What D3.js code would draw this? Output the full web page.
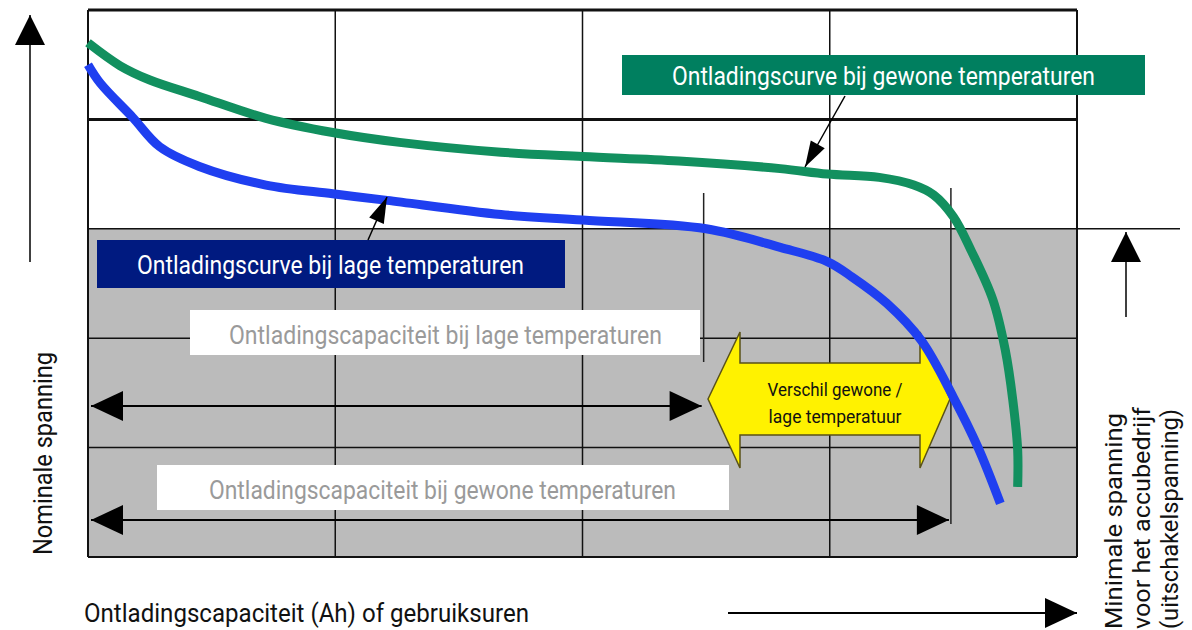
<!DOCTYPE html>
<html>
<head>
<meta charset="utf-8">
<script src="https://cdn.jsdelivr.net/npm/d3@7"></script>
<style>
  body { margin: 0; background: #fff; }
  svg text { font-family: Roboto, "DejaVu Sans Condensed", sans-serif; }
</style>
</head>
<body>
<div id="chart"></div>
<script>
// discharge curves, x in grid columns (capacity), y in grid rows (voltage)
const normalCapacity = [0, 0.13, 0.25, 0.45, 0.72, 0.99, 1.26, 1.67, 2.0, 2.39, 2.8, 2.99, 3.2, 3.34, 3.42, 3.5, 3.57, 3.66, 3.71, 3.74, 3.76, 3.76];
const normalVoltage = [4.7, 4.49, 4.36, 4.21, 4.01, 3.88, 3.79, 3.7, 3.66, 3.62, 3.55, 3.5, 3.47, 3.4, 3.31, 3.11, 2.81, 2.35, 1.89, 1.44, 0.98, 0.64];
const lowCapacity = [0, 0.05, 0.18, 0.29, 0.45, 0.72, 0.99, 1.21, 1.67, 2.0, 2.5, 2.8, 2.99, 3.09, 3.23, 3.37, 3.5, 3.6, 3.69];
const lowVoltage = [4.5, 4.33, 4.02, 3.75, 3.57, 3.4, 3.32, 3.26, 3.13, 3.08, 3.0, 2.83, 2.7, 2.56, 2.32, 1.98, 1.46, 1.0, 0.49];

const cutoffVoltage = 3;          // gray zone below this
const lowCapacityEnd = 2.49;      // capacity at cutoff, low temp
const normalCapacityEnd = 3.49;   // capacity at cutoff, normal temp

const xGrid = [0, 1, 2, 3, 4];
const yGrid = [0, 1, 2, 3, 4, 5];

const labelNormal = "Ontladingscurve bij gewone temperaturen";
const labelLow = "Ontladingscurve bij lage temperaturen";
const capLow = "Ontladingscapaciteit bij lage temperaturen";
const capNormal = "Ontladingscapaciteit bij gewone temperaturen";
const diffLines = ["Verschil gewone /", "lage temperatuur"];
const xTitle = "Ontladingscapaciteit (Ah) of gebruiksuren";
const yTitle = "Nominale spanning";
const cutoffLines = ["Minimale spanning", "voor het accubedrijf", "(uitschakelspanning)"];

const W = 1192, H = 630;
const x = d3.scaleLinear().domain([0, 4]).range([88, 1077]);
const y = d3.scaleLinear().domain([0, 5]).range([557, 10]);

const svg = d3.select("#chart").append("svg")
  .attr("width", W).attr("height", H);

// filled triangle pointing from base to tip
function head(g, tx, ty, angle, len, half) {
  const bx = tx - len * Math.cos(angle), by = ty - len * Math.sin(angle);
  const px = -Math.sin(angle) * half, py = Math.cos(angle) * half;
  g.append("path")
    .attr("d", `M${tx},${ty}L${bx + px},${by + py}L${bx - px},${by - py}Z`)
    .attr("fill", "#000");
}
function arrowLine(g, x1, y1, x2, y2, len, half, width, both) {
  const a = Math.atan2(y2 - y1, x2 - x1);
  g.append("line").attr("x1", x1).attr("y1", y1).attr("x2", x2).attr("y2", y2)
    .attr("stroke", "#000").attr("stroke-width", width);
  head(g, x2, y2, a, len, half);
  if (both) head(g, x1, y1, a + Math.PI, len, half);
}
// squeezed text, the original font is a condensed one
function label(g, tx, ty, txt, size, len, color) {
  return g.append("text").attr("x", tx).attr("y", ty).attr("fill", color)
    .attr("font-size", size).attr("textLength", len).attr("lengthAdjust", "spacingAndGlyphs").text(txt);
}

// gray zone under cutoff voltage
svg.append("rect")
  .attr("x", x(0)).attr("y", y(cutoffVoltage))
  .attr("width", x(4) - x(0)).attr("height", y(0) - y(cutoffVoltage))
  .attr("fill", "#bbbbbb");

// grid
const grid = svg.append("g").attr("stroke", "#111");
grid.selectAll("line.v").data(xGrid).join("line")
  .attr("x1", d => x(d)).attr("x2", d => x(d))
  .attr("y1", y(5)).attr("y2", y(0))
  .attr("stroke-width", d => (d === 0 || d === 4) ? 2 : 1.5);
grid.selectAll("line.h").data(yGrid).join("line")
  .attr("x1", x(0)).attr("x2", d => d === cutoffVoltage ? 1180 : x(4))
  .attr("y1", d => y(d)).attr("y2", d => y(d))
  .attr("stroke-width", d => (d === 4 || d === 5) ? 3 : (d === 0 ? 2 : 1.5));

// capacity marker lines
svg.append("line").attr("x1", x(lowCapacityEnd)).attr("x2", x(lowCapacityEnd))
  .attr("y1", 193).attr("y2", 362).attr("stroke", "#222").attr("stroke-width", 1.5);
svg.append("line").attr("x1", x(normalCapacityEnd)).attr("x2", x(normalCapacityEnd))
  .attr("y1", 188).attr("y2", 524).attr("stroke", "#222").attr("stroke-width", 1.5);

// white capacity labels
svg.append("rect").attr("x", 190).attr("y", 310).attr("width", 510).attr("height", 45).attr("fill", "#fff");
label(svg, 229, 344, capLow, 25, 433, "#9a9a9a");
svg.append("rect").attr("x", 157).attr("y", 465).attr("width", 572).attr("height", 45).attr("fill", "#fff");
label(svg, 209, 499, capNormal, 25, 467, "#9a9a9a");

// capacity arrows
const arr = svg.append("g");
arrowLine(arr, 91, 406, x(lowCapacityEnd) - 2, 406, 32, 15, 2, true);
arrowLine(arr, 91, 520, x(normalCapacityEnd) - 2, 520, 32, 15, 2, true);

// yellow double arrow
const yb = { l: 708, r: 950, cy: 399, hb: 740, hb2: 920, top: 363, bot: 435, ht: 332, hbm: 468 };
svg.append("path")
  .attr("d", `M${yb.l},${yb.cy}L${yb.hb},${yb.ht}L${yb.hb},${yb.top}L${yb.hb2},${yb.top}L${yb.hb2},${yb.ht}` +
    `L${yb.r},${yb.cy}L${yb.hb2},${yb.hbm}L${yb.hb2},${yb.bot}L${yb.hb},${yb.bot}L${yb.hb},${yb.hbm}Z`)
  .attr("fill", "#fff200").attr("stroke", "#5a5218").attr("stroke-width", 1.5);
diffLines.forEach((d, i) => {
  label(svg, 835, 396 + i * 27, d, 19, i === 0 ? 135 : 133, "#111").attr("text-anchor", "middle");
});

// curves
const line = d3.line().x(d => x(d[0])).y(d => y(d[1])).curve(d3.curveCatmullRom.alpha(0.5));
svg.append("path").datum(d3.zip(lowCapacity, lowVoltage))
  .attr("d", line).attr("fill", "none").attr("stroke", "#1f3ff0").attr("stroke-width", 9);
svg.append("path").datum(d3.zip(normalCapacity, normalVoltage))
  .attr("d", line).attr("fill", "none").attr("stroke", "#12905f").attr("stroke-width", 9);

// curve labels
svg.append("rect").attr("x", 622).attr("y", 55).attr("width", 523).attr("height", 40).attr("fill", "#007f5f");
label(svg, 672, 85, labelNormal, 25, 423, "#fff");
svg.append("rect").attr("x", 97).attr("y", 240).attr("width", 468).attr("height", 48).attr("fill", "#001a80");
label(svg, 137, 274, labelLow, 25, 387, "#fff");

// callout arrows
arrowLine(svg, 845, 96, 805, 167, 26, 8, 1.5, false);
arrowLine(svg, 368, 240, 387, 197, 26, 8, 1.5, false);

// axis arrows
arrowLine(svg, 30, 262, 30, 15, 30, 15, 1.5, false);
arrowLine(svg, 728, 613, 1077, 613, 32, 15, 2, false);
arrowLine(svg, 1126, 317, 1126, 232, 30, 15, 1.5, false);

// titles
label(svg, 84, 622, xTitle, 26, 445, "#111");
label(svg, 0, 0, yTitle, 25, 203, "#111").attr("transform", "translate(52,555) rotate(-90)");
cutoffLines.forEach((d, i) => {
  label(svg, 0, 0, d, 24, [216, 222, 220][i], "#111")
    .attr("transform", `translate(${1122 + i * 28},629) rotate(-90)`);
});
</script>
</body>
</html>
